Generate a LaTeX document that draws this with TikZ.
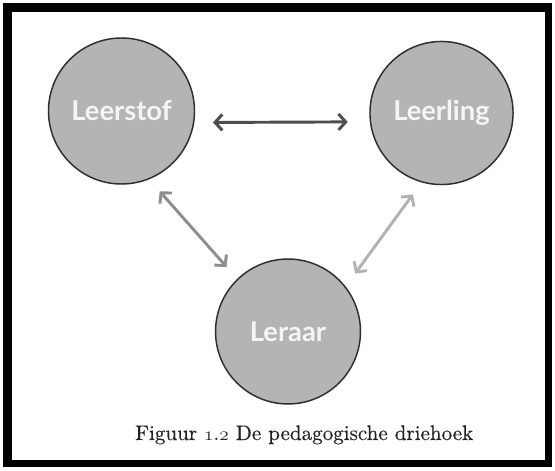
\documentclass[tikz,border=0pt]{standalone}
\usepackage{fontspec}
\setsansfont{Lato}
\newfontfamily\capfont{lmroman10-regular.otf}[FakeBold=0.3]
\usetikzlibrary{arrows.meta}

\definecolor{discfill}{HTML}{B4B4B4}
\definecolor{discline}{HTML}{2E2E2E}
\definecolor{arrowdark}{HTML}{4E4E4E}
\definecolor{arrowmid}{HTML}{8E8E8E}
\definecolor{arrowlight}{HTML}{B2B2B2}
\definecolor{captionink}{HTML}{222222}

% old-style figures from the Latin Modern math italic font
\newcommand{\osfig}[1]{{\usefont{OML}{lmm}{m}{it}#1}}

\tikzset{
  disc/.style={circle, draw=discline, line width=1.1pt, fill=discfill,
    inner sep=0pt, text=white!96!black,
    font=\sffamily\bfseries\fontsize{20.5}{24}\selectfont},
  linkarrow/.style={line width=2.2pt,
    {Straight Barb[length=5.5pt, width=12pt]}-{Straight Barb[length=5.5pt, width=12pt]}},
}

\begin{document}
\begin{tikzpicture}[x=0.75pt, y=-0.75pt]
  % page area and frame
  \fill[white] (0,0) rectangle (555,470);
  \useasboundingbox (0,0) rectangle (555,470);
  \fill[black] (3,3) rectangle (552,12);
  \fill[black] (3,3) rectangle (12,467);
  \fill[black] (545,3) rectangle (552,467);
  \fill[black] (3,460) rectangle (552,467);

  % the three corners of the triangle
  \node[disc, minimum size=109.5pt] (stof)  at (121.5,111)   {Leerstof};
  \node[disc, minimum size=107.3pt] (ling)  at (441.5,113)   {Leerling};
  \node[disc, minimum size=108.7pt] (raar)  at (288,331.5)   {Leraar};

  % relations between them
  \draw[linkarrow, arrowdark, shorten <=14pt, shorten >=16.5pt] (stof.-9) -- (ling.187);
  \draw[linkarrow, arrowmid, shorten <=12pt, shorten >=12pt] (stof.-68) -- (raar.134);
  \draw[linkarrow, arrowlight, shorten <=11pt, shorten >=12pt] (ling.254) -- (raar.38);

  % caption
  \node[anchor=base west, inner sep=0pt, text=captionink,
        font=\capfont\fontsize{15.8}{19}\selectfont] (cap) at (135,440)
    {Figuur \osfig{1}.\osfig{2} De pedagogische driehoek};
\end{tikzpicture}
\end{document}
